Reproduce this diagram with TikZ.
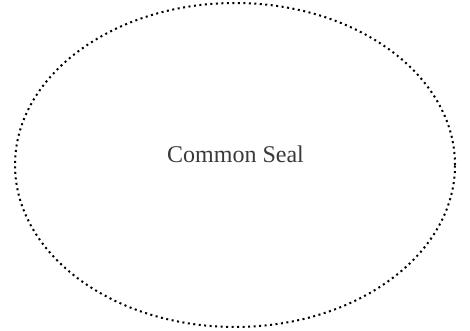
\documentclass[tikz,border=0pt]{standalone}
\usepackage{fontspec}
\setmainfont{Liberation Serif}
\usepackage{tikz}
\usepackage{xcolor}
\usetikzlibrary{shapes.geometric}
\definecolor{Ink}{HTML}{3A3A3A}

\begin{document}
\begin{tikzpicture}[
  x=1pt,y=1pt,
  seal/.style={ellipse,draw=black,line width=2pt,dash pattern=on 2pt off 3.5pt,minimum width=440pt,minimum height=324pt,inner sep=0pt},
  label/.style={text=Ink,font=\fontsize{24}{28}\selectfont,inner sep=0pt}
]
\useasboundingbox (0,0) rectangle (470,331);
\node[seal] (seal) at (235,166) {};
\node[label,anchor=base] (name) at (235.5,168) {Common Seal};
\end{tikzpicture}
\end{document}
